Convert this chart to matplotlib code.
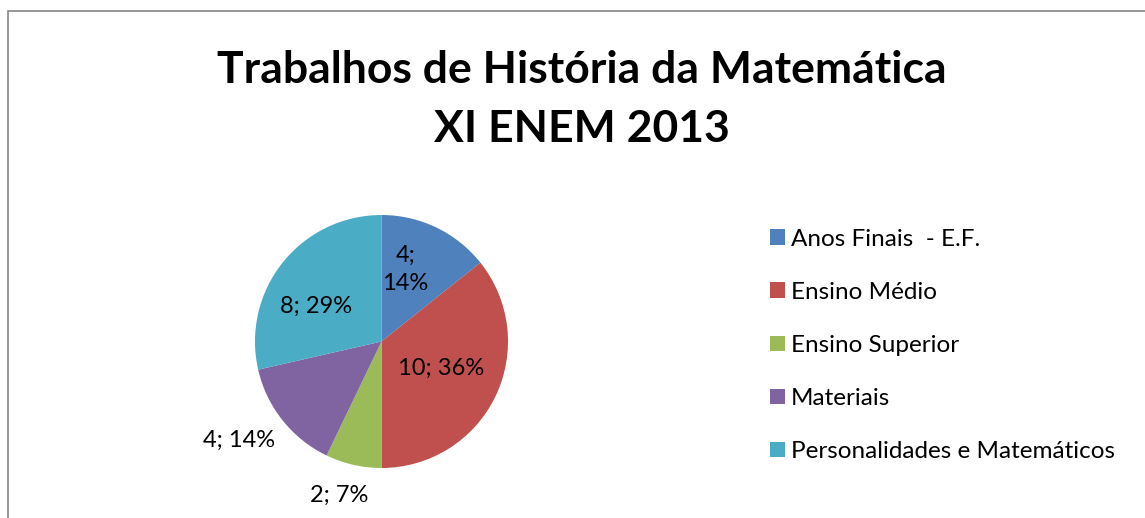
import matplotlib
matplotlib.use("Agg")
import matplotlib.pyplot as plt
from matplotlib.patches import Rectangle
import numpy as np

categories = ["Anos Finais  - E.F.", "Ensino Médio", "Ensino Superior",
              "Materiais", "Personalidades e Matemáticos"]
values = [4, 10, 2, 4, 8]
colors = ["#4F81BD", "#C0504D", "#9BBB59", "#8064A2", "#4BACC6"]
title_lines = ["Trabalhos de História da Matemática", "XI ENEM 2013"]

W, H = 1145, 518
plt.rcParams['font.family'] = ['Lato', 'DejaVu Sans']
fig = plt.figure(figsize=(W / 100, H / 100), dpi=100)
ax = fig.add_axes([0, 0, 1, 1])

cx, cy, R = 381.5, H - 341.5, 126.5
wedges, _ = ax.pie(values, colors=colors, startangle=90, counterclock=False,
                   center=(cx, cy), radius=R, frame=False)
ax.set_xlim(0, W)
ax.set_ylim(0, H)
ax.set_aspect('equal')
ax.axis('off')

total = sum(values)
# per-label placement: (radial fraction, angle offset in degrees, multi-line)
placement = [(0.60, 7.5, True), (0.52, 1.7, False), (1.26, -2.6, False),
             (1.37, -3.6, False), (0.59, 10.1, False)]
for w, v, (frac, dang, ml) in zip(wedges, values, placement):
    ang = np.deg2rad((w.theta1 + w.theta2) / 2 + dang)
    pct = round(100 * v / total)
    txt = f"{v};\n{pct}%" if ml else f"{v}; {pct}%"
    ax.text(cx + frac * R * np.cos(ang), cy + frac * R * np.sin(ang), txt,
            ha='center', va='center', fontsize=17, color='black',
            linespacing=1.4)

ax.text(582, H - 83, title_lines[0], ha='center', va='baseline',
        fontsize=32, fontweight='bold')
ax.text(582, H - 142, title_lines[1], ha='center', va='baseline',
        fontsize=32, fontweight='bold')

ax.legend(wedges, categories, loc='center left',
          bbox_to_anchor=(770 / W, 1 - 345.5 / H), frameon=False,
          fontsize=17.5, labelspacing=1.32, handlelength=0.62,
          handleheight=0.62, handletextpad=0.25, borderpad=0,
          borderaxespad=0)

ax.add_patch(Rectangle((8, -20), W + 40, H - 11 + 20, fill=False,
                       edgecolor='#868686', linewidth=1.2))

fig.savefig("out.png", dpi=100)
